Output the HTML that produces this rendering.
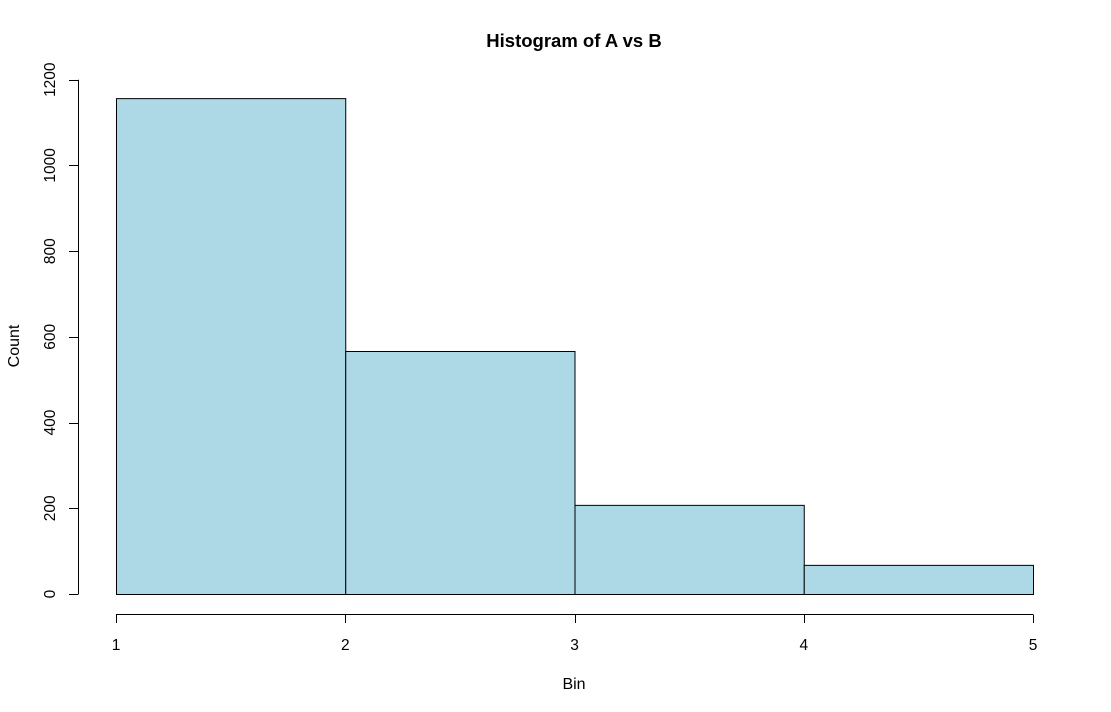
<!DOCTYPE html>
<html><head><meta charset="utf-8"><style>
html,body{margin:0;padding:0;background:#fff;}
svg{display:block;font-family:"Liberation Sans",Arial,sans-serif;}
</style></head><body>
<svg id="chart" width="1111" height="712" xmlns="http://www.w3.org/2000/svg">
<text x="574" y="47" text-anchor="middle" font-size="18.5" font-weight="bold">Histogram of A vs B</text>
<text x="574" y="689" text-anchor="middle" font-size="16">Bin</text>
<text transform="translate(19,346) rotate(-90)" text-anchor="middle" font-size="16">Count</text>
<g id="bars"></g><g id="yaxis"></g><g id="xaxis"></g>
</svg>
<script>
const binEdges = [1, 2, 3, 4, 5];
const counts = [1157, 567, 208, 68];
const yTicks = [0, 200, 400, 600, 800, 1000, 1200];
const xTicks = [1, 2, 3, 4, 5];
const NS = "http://www.w3.org/2000/svg";
const x = v => 116 + (v - 1) * (1033 - 116) / 4;
const y = v => 594 - v * (594 - 79.7) / 1200;
function mk(tag, attrs, parent) { const e = document.createElementNS(NS, tag); for (const k in attrs) e.setAttribute(k, attrs[k]); parent.appendChild(e); return e; }
const bars = document.getElementById('bars');
counts.forEach((c, i) => {
  const r = mk('rect', {x: x(binEdges[i]) + 0.5, y: y(c) + 0.5, width: x(binEdges[i+1]) - x(binEdges[i]), height: y(0) - y(c), fill: '#add8e6', stroke: '#000', 'stroke-width': 1}, bars);
  
  
});
const ya = document.getElementById('yaxis');


mk('line', {x1: 78.5, x2: 78.5, y1: y(0), y2: y(1200), stroke: '#000'}, ya);
yTicks.forEach(t => {
  mk('line', {x1: 69, x2: 78.5, y1: Math.round(y(t)) + 0.5, y2: Math.round(y(t)) + 0.5, stroke: '#000'}, ya);
  const tx = mk('text', {transform: `translate(55,${y(t)}) rotate(-90)`, 'text-anchor': 'middle', 'font-size': 15.5}, ya);
  tx.textContent = t;
  
  
});
const xa = document.getElementById('xaxis');


mk('line', {x1: x(1), x2: x(5), y1: 614.5, y2: 614.5, stroke: '#000'}, xa);
xTicks.forEach(t => {
  mk('line', {x1: Math.round(x(t)) + 0.5, x2: Math.round(x(t)) + 0.5, y1: 614.5, y2: 623, stroke: '#000'}, xa);
  const tx = mk('text', {x: x(t), y: 650, 'text-anchor': 'middle', 'font-size': 15.5}, xa);
  tx.textContent = t;
  
  
});
</script>
</body></html>
